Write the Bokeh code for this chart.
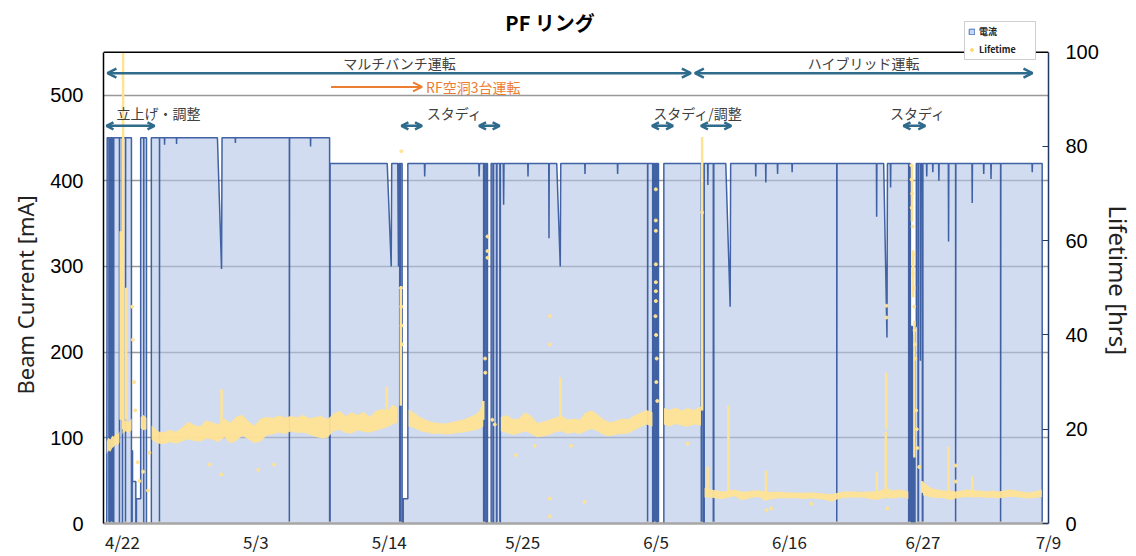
from bokeh.plotting import figure
from bokeh.models import (Range1d, LinearAxis, FixedTicker, Label, Arrow, OpenHead,
                          Span, Legend, LegendItem, Title)
from bokeh.embed import file_html
from bokeh.resources import INLINE

# ---------------- data (x = days since 4/22) ----------------
tick_days = [0, 11, 22, 33, 44, 55, 66]
tick_labels = ["4/22", "5/3", "5/14", "5/25", "6/5", "6/16", "6/27"]
last_tick_label = "7/9"
current_ticks = [0, 100, 200, 300, 400, 500]
life_ticks = [0, 20, 40, 60, 80, 100]

# beam current [mA] as (day, mA) points
cur_startup = [(-1.30, 0), (-1.26, 450), (-1.12, 450), (-1.12, 0), (-1.08, 0), (-1.08, 450),
               (-1.00, 450), (-1.00, 0), (-0.96, 0), (-0.96, 450), (-0.88, 450), (-0.88, 0),
               (-0.84, 0), (-0.84, 450), (-0.76, 450), (-0.76, 0), (-0.72, 0), (-0.72, 450),
               (-0.25, 450), (-0.25, 0), (-0.24, 450), (0.00, 450), (0.00, 0), (0.01, 450),
               (0.25, 450), (0.25, 0), (0.26, 450), (0.74, 450), (0.74, 0), (0.80, 0),
               (0.80, 85), (0.83, 85), (0.83, 49), (1.10, 49), (1.10, 0), (1.15, 0),
               (1.15, 29), (1.50, 29), (1.50, 450), (1.75, 450), (1.75, 0), (1.76, 450),
               (1.98, 450), (1.98, 0), (2.38, 0), (2.38, 450)]
cur_multi_450 = [(3.05, 450), (3.05, 0), (3.06, 450), (3.46, 450), (3.47, 442), (3.48, 450),
                 (4.45, 450), (4.46, 443), (4.47, 450), (7.83, 450), (8.17, 297), (8.21, 450),
                 (9.30, 450), (9.31, 444), (9.32, 450), (13.76, 450), (13.76, 0), (13.78, 450),
                 (15.50, 450), (15.51, 440), (15.52, 450), (17.08, 450), (17.08, 0),
                 (17.12, 0), (17.12, 420)]
cur_multi_420a = [(21.83, 420), (22.16, 300), (22.20, 420), (22.70, 420), (22.76, 300),
                  (22.78, 420), (22.86, 420), (22.86, 0), (22.92, 0), (22.92, 420),
                  (23.06, 420), (23.06, 0), (23.15, 0), (23.15, 29), (23.53, 29), (23.53, 420),
                  (24.90, 420), (24.92, 405), (24.95, 420), (29.38, 420), (29.41, 405),
                  (29.44, 420), (29.78, 420), (29.78, 0), (29.84, 0), (29.84, 420),
                  (29.97, 420), (29.97, 0), (30.02, 0), (30.02, 420), (30.10, 420), (30.10, 0),
                  (30.40, 0), (30.40, 420), (30.55, 420), (30.55, 0), (30.60, 0), (30.60, 420),
                  (30.84, 420), (30.84, 0), (30.88, 0), (30.88, 420), (31.12, 420), (31.12, 0),
                  (31.16, 0), (31.16, 420), (31.40, 420), (31.43, 372), (31.46, 420)]
cur_multi_420b = [(33.42, 420), (33.44, 405), (33.46, 420), (35.15, 420), (35.17, 333),
                  (35.19, 420), (35.81, 420), (36.10, 300), (36.14, 420), (38.12, 420),
                  (38.14, 408), (38.16, 420), (40.81, 420), (40.83, 408), (40.85, 420),
                  (43.30, 420), (43.30, 0), (43.32, 420), (43.72, 420), (43.72, 0),
                  (43.76, 0), (43.76, 420), (43.84, 420), (43.84, 0), (43.88, 0), (43.88, 420),
                  (43.96, 420), (43.96, 0), (44.00, 0), (44.00, 420), (44.08, 420), (44.08, 0),
                  (44.12, 0), (44.12, 420), (44.20, 420), (44.20, 0), (44.64, 0), (44.64, 420),
                  (47.73, 420), (47.73, 0), (47.78, 0), (47.78, 420), (47.92, 420), (47.92, 0),
                  (47.97, 0), (47.97, 420)]
cur_hybrid = [(48.25, 420), (48.27, 395), (48.29, 420), (48.72, 420), (48.72, 0), (48.76, 0),
              (48.76, 420), (49.75, 420), (50.11, 253), (50.15, 420), (52.20, 420),
              (52.22, 405), (52.24, 420), (53.03, 420), (53.05, 398), (53.07, 420),
              (54.00, 420), (54.02, 408), (54.04, 420), (55.20, 420), (55.22, 410),
              (55.24, 420), (58.90, 420), (58.90, 0), (58.92, 420), (62.17, 420),
              (62.19, 358), (62.21, 420), (62.77, 420), (63.04, 217), (63.08, 420),
              (63.32, 420), (63.34, 392), (63.36, 420), (64.83, 420), (64.83, 0), (64.87, 0),
              (64.87, 420), (64.97, 420), (64.97, 0), (65.02, 0), (65.02, 230), (65.14, 230),
              (65.14, 0), (65.19, 0), (65.19, 220), (65.30, 220), (65.30, 0), (65.35, 0),
              (65.35, 230), (65.46, 230), (65.46, 420), (65.60, 420), (65.60, 0), (65.64, 0),
              (65.64, 420), (65.80, 420), (65.80, 190), (65.84, 420), (65.96, 420),
              (65.96, 0), (66.00, 0), (66.00, 420), (66.30, 420), (66.32, 405), (66.34, 420),
              (66.80, 420), (66.82, 410), (66.84, 420), (67.30, 420), (67.32, 400),
              (67.34, 420), (68.10, 420), (68.12, 329), (68.14, 420), (68.70, 420),
              (68.70, 0), (68.72, 420), (70.05, 420), (70.07, 374), (70.09, 420),
              (71.00, 420), (71.02, 408), (71.04, 420), (71.60, 420), (71.62, 402),
              (71.64, 420), (72.41, 420), (72.41, 0), (72.43, 420), (75.00, 420),
              (75.02, 410), (75.04, 420), (75.84, 420), (75.84, 0)]

# lifetime [hrs] band per run: (day, low, high)
life_startup = [(-1.30, 14.8, 17.5), (-1.15, 15.5, 18.2), (-1.00, 15.2, 17.8), (-0.85, 16.0, 18.6),
                (-0.70, 16.3, 18.4), (-0.55, 16.8, 19.2), (-0.40, 16.5, 18.8), (-0.25, 17.2, 19.6)]
life_apr_a = [(0.00, 19.0, 21.2), (0.25, 19.6, 22.0), (0.50, 19.2, 21.5), (0.75, 19.8, 22.3)]
life_apr_b = [(1.50, 20.2, 22.6), (1.75, 19.8, 23.0), (1.98, 20.0, 22.4)]
life_multi_1 = [(2.40, 17.8, 20.8), (2.90, 17.0, 19.6), (3.40, 16.8, 19.3), (3.90, 17.3, 19.9),
                (4.40, 16.9, 19.4), (4.90, 17.4, 20.3), (5.40, 17.9, 21.6), (5.90, 17.5, 20.9),
                (6.40, 17.4, 20.6), (6.90, 18.0, 21.9), (7.40, 17.8, 21.5), (7.90, 17.3, 21.0),
                (8.40, 18.3, 22.2), (8.90, 17.0, 21.4), (9.40, 17.6, 22.7), (9.90, 18.6, 23.0),
                (10.40, 17.8, 21.6), (10.90, 17.1, 20.8), (11.40, 17.4, 22.3), (11.90, 18.7, 22.6),
                (12.40, 18.9, 22.4), (12.90, 19.3, 22.9), (13.40, 19.0, 22.5), (13.90, 19.6, 22.8),
                (14.40, 19.2, 22.5), (14.90, 19.3, 23.1), (15.40, 18.9, 22.3), (15.90, 18.4, 22.6),
                (16.40, 18.1, 22.8), (16.90, 18.2, 22.1), (17.40, 19.6, 23.3), (17.90, 19.9, 23.9),
                (18.40, 19.2, 22.8), (18.90, 19.1, 23.6), (19.40, 19.8, 23.0), (19.90, 19.4, 23.7),
                (20.40, 19.3, 22.6), (20.90, 19.7, 23.9), (21.40, 20.1, 24.3), (21.90, 20.5, 24.0),
                (22.25, 21.0, 25.2), (22.65, 21.4, 24.6)]
life_multi_2 = [(23.60, 20.6, 24.2), (24.10, 20.2, 23.4), (24.60, 19.6, 22.5), (25.10, 19.3, 21.9),
                (25.60, 19.0, 21.5), (26.10, 19.1, 21.3), (26.60, 18.9, 21.2), (27.10, 19.0, 21.5),
                (27.60, 19.2, 21.8), (28.10, 19.3, 22.0), (28.60, 19.6, 22.6), (29.10, 19.8, 23.1),
                (29.45, 20.1, 24.0), (29.75, 20.6, 25.4)]
life_multi_3 = [(31.20, 19.6, 22.6), (31.70, 19.2, 23.0), (32.20, 18.8, 22.1), (32.70, 19.1, 22.3),
                (33.20, 19.6, 23.6), (33.70, 19.0, 22.8), (34.20, 18.3, 21.3), (34.70, 18.5, 21.6),
                (35.20, 18.8, 22.0), (35.70, 19.4, 22.5), (36.20, 19.6, 22.9), (36.70, 19.0, 22.0),
                (37.20, 19.3, 22.3), (37.70, 19.0, 22.0), (38.20, 19.6, 23.6), (38.70, 20.1, 24.0),
                (39.20, 19.5, 23.1), (39.70, 18.8, 22.0), (40.20, 18.5, 21.5), (40.70, 18.9, 21.8),
                (41.20, 19.0, 22.3), (41.70, 19.1, 22.1), (42.20, 19.8, 22.9), (42.70, 20.4, 23.5),
                (43.20, 21.0, 24.1), (43.70, 20.6, 23.6)]
life_multi_4 = [(44.65, 21.0, 24.5), (45.10, 20.6, 24.1), (45.60, 21.1, 24.6), (46.10, 20.8, 24.0),
                (46.60, 20.5, 24.5), (47.10, 21.0, 24.1), (47.70, 20.8, 24.8)]
life_hybrid_1 = [(48.00, 5.5, 7.6), (48.50, 5.5, 7.2), (49.00, 5.3, 7.0), (49.50, 5.2, 6.8),
                 (50.00, 5.5, 7.0), (50.50, 5.8, 7.2), (51.00, 5.0, 6.8), (51.50, 5.2, 6.8),
                 (52.00, 5.5, 7.0), (52.50, 5.6, 7.0), (53.00, 4.8, 6.8), (53.50, 5.2, 6.7),
                 (54.00, 5.3, 6.8), (54.50, 5.4, 6.7), (55.00, 5.3, 6.6), (55.50, 5.4, 6.6),
                 (56.00, 5.2, 6.5), (56.50, 5.3, 6.6), (57.00, 5.3, 6.6), (57.50, 5.2, 6.4),
                 (58.00, 5.0, 6.3), (58.50, 4.6, 6.2), (59.00, 5.2, 6.5), (59.50, 5.4, 6.8),
                 (60.00, 5.5, 6.8), (60.50, 5.5, 6.8), (61.00, 5.5, 6.7), (61.50, 5.3, 6.8),
                 (62.00, 5.0, 6.8), (62.50, 5.2, 7.0), (63.00, 5.4, 7.5), (63.50, 5.3, 7.0),
                 (64.00, 5.5, 7.2), (64.50, 5.5, 7.0), (64.80, 5.2, 6.8)]
life_hybrid_2 = [(66.00, 6.0, 8.8), (66.30, 5.8, 8.2), (66.70, 5.5, 7.5), (67.20, 5.4, 7.2),
                 (67.70, 5.4, 7.0), (68.20, 5.0, 7.0), (68.70, 5.3, 6.8), (69.20, 5.5, 7.0),
                 (69.70, 5.6, 7.2), (70.20, 5.5, 7.0), (70.70, 5.6, 7.0), (71.20, 5.4, 6.8),
                 (71.70, 5.5, 7.0), (72.20, 5.3, 6.8), (72.70, 5.5, 7.0), (73.20, 5.6, 7.2),
                 (73.70, 5.6, 7.0), (74.20, 5.4, 6.8), (74.70, 5.3, 6.6), (75.20, 5.4, 6.8),
                 (75.80, 5.6, 7.2)]

# lifetime spikes (day, low, high)
spike_t = [-0.15, 0.05, 0.30, 8.17, 21.80, 22.95, 29.75, 36.10, 47.80, 48.25, 49.96, 53.07,
           62.20, 62.95, 62.97, 65.10, 65.20, 65.30, 65.95, 68.12, 70.07]
spike_lo = [22, 20, 22, 21, 23, 25, 22, 22, 24, 6.5, 6.5, 6.5, 6.5, 6.5, 20, 64, 48, 14, 6.5, 6.8, 6.8]
spike_hi = [62, 100, 50, 28.5, 29, 50, 26, 31, 82, 12, 25, 11.2, 11, 19.5, 32, 76, 58, 43, 9, 16.3, 10]

# isolated lifetime readings (day, hrs)
dot_t = [0.80, 0.85, 0.95, 1.05, 1.25, 1.40, 1.70, 2.10, 2.22, 7.20, 8.15, 11.20, 12.50,
         22.97, 23.00, 23.02, 23.05, 23.00, 30.10, 30.10, 30.10, 29.90, 29.92, 30.50, 30.70,
         32.45, 34.00, 35.25, 35.25, 35.25, 35.25, 37.00, 38.10, 46.60, 53.10, 53.50,
         43.98, 43.98, 43.98, 43.98, 43.98, 43.98, 43.98, 43.95, 44.00, 44.05, 44.02, 44.10,
         47.80, 56.80, 63.00, 63.00, 63.07, 68.70, 68.72,
         65.05, 65.07, 65.12, 65.08, 65.15, 65.22, 65.18, 65.25, 65.28, 65.32, 65.35, 65.38,
         65.45, 65.50, 65.55, 65.70,
         -1.20, -0.90, 0.30, 0.90, 1.60, 2.20, 3.05, 13.76, 17.10, 22.90, 29.80, 30.30,
         31.00, 43.30, 43.90, 44.30, 47.75, 48.74, 58.90, 64.90, 65.60, 66.00, 68.70,
         72.41, 75.90]
dot_h = [46, 39, 30, 24, 13, 9, 11, 7, 15, 12.5, 10.4, 11.4, 12.5,
         50, 46, 42, 38, 79, 60.9, 57.8, 56.4, 35, 32, 22, 21,
         14.5, 16.5, 44, 38, 5.3, 1.5, 16.5, 4.6, 17, 2.8, 3.2,
         70.9, 64.3, 62.1, 55.0, 51.2, 49.3, 47.2, 44, 40, 35, 30, 26,
         66, 4.2, 46.2, 43.7, 3.2, 12.3, 8.9,
         76, 73, 70, 67, 63, 57, 53, 50, 46, 41, 38, 35,
         24, 20, 16, 12,
         0, 0, 0, 0, 0, 0, 0, 0, 0, 0, 0, 0,
         0, 0, 0, 0, 0, 0, 0, 0, 0, 0, 0,
         0, 0]

# operation periods (label, start day, end day)
mode_periods = [("マルチバンチ運転", -1.24, 46.87), ("ハイブリッド運転", 47.20, 75.04)]
rf_period = ("RF空洞3台運転", 17.20, 24.70)
study_periods = [(-1.32, 2.64), (23.00, 24.70), (29.40, 31.10), (43.66, 45.40),
                 (47.70, 50.20), (64.40, 66.20)]
study_labels = [("立上げ・調整", -0.50, "left"), ("スタディ", 27.39, "center"),
                ("スタディ/調整", 47.45, "center"), ("スタディ", 65.60, "center")]

# ---------------- styles / layout ----------------
JP = "Noto Sans CJK JP"
FILL = "#B2C5E6"
LINE = "#2F539B"
YEL = "#FFE394"
ANN = "#2E6B8C"
ORANGE = "#ED7D31"
NAN = float("nan")
X0, X1 = -1.565, 76.36
CUR_TOP, CUR_VIEW = 550, 610.3
LIFE_TOP, LIFE_VIEW = 100, 110.97
Y_MODE_TXT, Y_MODE, Y_RF, Y_STUDY_TXT, Y_STUDY = 537.5, 525.5, 509.5, 479.0, 464.0

p = figure(width=1136, height=556, x_range=Range1d(X0, X1), y_range=Range1d(0, CUR_VIEW),
           output_backend="svg", toolbar_location=None, title=None,
           min_border_left=102, min_border_right=88, min_border_top=0, min_border_bottom=30)
p.extra_y_ranges = {"life": Range1d(0, LIFE_VIEW)}
p.outline_line_color = None
p.background_fill_color = "white"
p.border_fill_color = "white"

# bottom axis
p.xaxis.ticker = FixedTicker(ticks=tick_days + [X1 - 0.005])
overrides = {d: l for d, l in zip(tick_days, tick_labels)}
overrides[X1 - 0.005] = last_tick_label
p.xaxis.major_label_overrides = overrides
p.xaxis.axis_line_color = "#A6A6A6"
p.xaxis.axis_line_width = 2.5
p.xaxis.major_tick_line_color = None
p.xaxis.major_tick_out = 0
p.xaxis.major_tick_in = 0
p.xaxis.minor_tick_line_color = None
p.xaxis.minor_tick_out = 0
p.xaxis.major_label_text_font = JP
p.xaxis.major_label_text_font_size = "17px"
p.xaxis.major_label_text_color = "#222222"
p.xaxis.major_label_standoff = 5

# left axis
p.yaxis.ticker = FixedTicker(ticks=current_ticks)
p.yaxis.bounds = (0, CUR_TOP)
p.yaxis.axis_line_color = "black"
p.yaxis.axis_line_width = 1.5
p.yaxis.major_tick_line_color = None
p.yaxis.major_tick_out = 0
p.yaxis.major_tick_in = 0
p.yaxis.minor_tick_line_color = None
p.yaxis.minor_tick_out = 0
p.yaxis.major_label_text_font = "Liberation Sans"
p.yaxis.major_label_text_font_size = "20px"
p.yaxis.major_label_text_color = "black"
p.yaxis.major_label_standoff = 20

# right axis
raxis = LinearAxis(y_range_name="life", ticker=FixedTicker(ticks=life_ticks),
                   bounds=(0, LIFE_TOP))
raxis.axis_line_color = "#203864"
raxis.axis_line_width = 1.5
raxis.major_tick_line_color = "#203864"
raxis.major_tick_in = 6
raxis.major_tick_out = 0
raxis.minor_tick_line_color = None
raxis.minor_tick_out = 0
raxis.major_label_text_font = "Liberation Sans"
raxis.major_label_text_font_size = "20px"
raxis.major_label_text_color = "black"
raxis.major_label_standoff = 17
p.add_layout(raxis, "right")

# axis titles
p.add_layout(Title(text="Beam Current [mA]", align="left", offset=129, standoff=15,
                   text_font="Noto Sans", text_font_size="22px", text_font_style="normal",
                   text_color="#222222"), "left")
p.add_layout(Title(text="Lifetime [hrs]", align="left", offset=205, standoff=0,
                   text_font="Noto Sans", text_font_size="24px", text_font_style="normal",
                   text_color="#222222"), "right")

p.xgrid.grid_line_color = None
p.ygrid.ticker = FixedTicker(ticks=current_ticks)
p.ygrid.grid_line_color = "#999999"
p.ygrid.grid_line_width = 1.3

# beam current
cur = cur_startup + cur_multi_450 + cur_multi_420a + cur_multi_420b + cur_hybrid
cur_t = [c[0] for c in cur]
cur_mA = [c[1] for c in cur]
p.varea(x=cur_t, y1=[0] * len(cur_t), y2=cur_mA, fill_color=FILL, fill_alpha=0.6)
p.line(cur_t, cur_mA, line_color=LINE, line_width=1.5, line_alpha=0.9)

# lifetime
for seg in [life_startup, life_apr_a, life_apr_b, life_multi_1, life_multi_2, life_multi_3,
            life_multi_4, life_hybrid_1, life_hybrid_2]:
    p.varea(x=[s[0] for s in seg], y1=[s[1] for s in seg], y2=[s[2] for s in seg],
            fill_color=YEL, fill_alpha=0.95, y_range_name="life")
p.segment(x0=spike_t, y0=spike_lo, x1=spike_t, y1=spike_hi, line_color=YEL, line_width=2.5,
          y_range_name="life")
p.scatter(dot_t, dot_h, size=3, color=YEL, y_range_name="life")

# top border of the chart area
p.add_layout(Span(location=CUR_TOP, dimension="width", line_color="black", line_width=1.5))

# annotations
for txt, t0, t1 in mode_periods:
    p.add_layout(Arrow(x_start=t0, y_start=Y_MODE, x_end=t1, y_end=Y_MODE,
                       start=OpenHead(size=9, line_color=ANN, line_width=2.5),
                       end=OpenHead(size=9, line_color=ANN, line_width=2.5),
                       line_color=ANN, line_width=2.5))
    p.add_layout(Label(x=(t0 + t1) / 2, y=Y_MODE_TXT, text=txt, text_align="center",
                       text_baseline="middle", text_font=JP, text_font_size="14px",
                       text_color="#404040"))
rf_txt, rf0, rf1 = rf_period
p.add_layout(Arrow(x_start=rf0, y_start=Y_RF, x_end=rf1, y_end=Y_RF, start=None,
                   end=OpenHead(size=9, line_color=ORANGE, line_width=2),
                   line_color=ORANGE, line_width=2))
p.add_layout(Label(x=rf1, y=Y_RF, x_offset=4, text=rf_txt, text_align="left",
                   text_baseline="middle", text_font=JP, text_font_size="14px",
                   text_color=ORANGE))
for t0, t1 in study_periods:
    p.add_layout(Arrow(x_start=t0, y_start=Y_STUDY, x_end=t1, y_end=Y_STUDY,
                       start=OpenHead(size=7, line_color=ANN, line_width=2.5),
                       end=OpenHead(size=7, line_color=ANN, line_width=2.5),
                       line_color=ANN, line_width=2.5))
for txt, tx, al in study_labels:
    p.add_layout(Label(x=tx, y=Y_STUDY_TXT, text=txt, text_align=al, text_baseline="middle",
                       text_font=JP, text_font_size="14px", text_color="#404040"))

# chart title
p.add_layout(Label(x=35.26, y=CUR_TOP, y_offset=30, text="PF リング", text_align="center",
                   text_baseline="middle", text_font=JP, text_font_style="bold",
                   text_font_size="20px", text_color="black"))

# legend (swatch renderers hold no visible points)
leg_cur = p.quad(left=[NAN], right=[NAN], top=[NAN], bottom=[NAN], fill_color="#C9D6EE",
                 line_color="#4472C4", line_width=1)
leg_life = p.scatter([NAN], [NAN], size=3, color="#FFD966", y_range_name="life")
legend = Legend(items=[LegendItem(label="電流", renderers=[leg_cur]),
                       LegendItem(label="Lifetime", renderers=[leg_life])],
                location=(861, 463), orientation="vertical",
                label_text_font=JP, label_text_font_size="9px", label_text_font_style="bold",
                label_text_color="#222222", glyph_width=7, glyph_height=7, label_standoff=4,
                padding=3, spacing=5, margin=0, border_line_color="#A0A0A0",
                border_line_width=1, background_fill_color="white", background_fill_alpha=1,
                label_height=13, label_width=53)
p.add_layout(legend, "center")

open("out.html", "w").write(file_html(p, INLINE))
